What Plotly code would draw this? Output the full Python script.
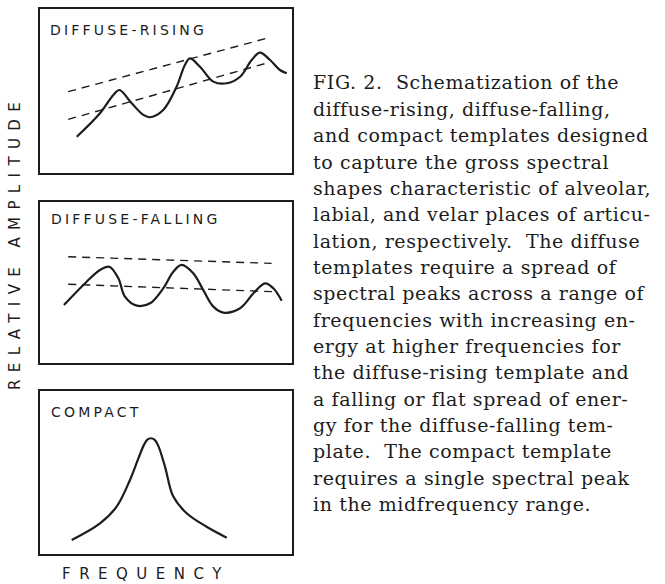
import plotly.graph_objects as go

W, H = 665, 584

# ---------------- data (relative units, 0-100 on both axes) ----------------
rising_freq = [14.6, 23.8, 29.1, 31.5, 36.4, 41.0, 43.7, 48.9, 54.2, 57.5, 59.5,
               63.5, 68.8, 74.1, 79.4, 84.0, 87.3, 91.3, 95.2, 97.9]
rising_amp = [22.1, 36.4, 47.6, 50.6, 42.5, 35.4, 34.0, 38.4, 52.6, 65.9, 69.9,
              64.8, 55.7, 54.7, 58.7, 68.9, 73.4, 68.9, 62.8, 60.8]
rising_upper_freq = [11.2, 91.3]
rising_upper_amp = [49.6, 82.7]
rising_lower_freq = [11.2, 90.6]
rising_lower_amp = [32.7, 67.3]

falling_freq = [9.5, 18.5, 23.8, 27.5, 31.1, 33.7, 38.4, 43.7, 48.9, 52.9, 56.2,
                60.8, 64.8, 68.8, 72.7, 79.4, 84.7, 89.3, 92.6, 95.9]
falling_amp = [36.0, 50.5, 57.8, 59.8, 52.6, 41.2, 35.6, 37.1, 46.4, 56.7, 60.9,
               55.7, 45.3, 35.0, 31.3, 34.0, 43.3, 49.5, 46.4, 38.7]
falling_upper_freq = [11.2, 91.9]
falling_upper_amp = [66.0, 61.9]
falling_lower_freq = [11.2, 92.6]
falling_lower_amp = [48.9, 44.3]

compact_freq = [12.6, 23.8, 30.4, 35.7, 39.0, 41.2, 42.6, 44.0, 45.4, 46.9, 49.6,
                52.9, 58.2, 66.1, 74.1]
compact_amp = [8.6, 18.8, 29.0, 45.4, 58.5, 66.8, 70.2, 71.0, 70.2, 66.5, 53.6,
               35.2, 25.0, 16.7, 10.0]

panel_labels = ["DIFFUSE-RISING", "DIFFUSE-FALLING", "COMPACT"]
x_title = "FREQUENCY"
y_title = "RELATIVE AMPLITUDE"

caption_lines = [
    "FIG. 2.  Schematization of the",
    "diffuse-rising, diffuse-falling,",
    "and compact templates designed",
    "to capture the gross spectral",
    "shapes characteristic of alveolar,",
    "labial, and velar places of articu-",
    "lation, respectively.  The diffuse",
    "templates require a spread of",
    "spectral peaks across a range of",
    "frequencies with increasing en-",
    "ergy at higher frequencies for",
    "the diffuse-rising template and",
    "a falling or flat spread of ener-",
    "gy for the diffuse-falling tem-",
    "plate.  The compact template",
    "requires a single spectral peak",
    "in the midfrequency range.",
]

# ---------------- layout helpers ----------------
INK = "#1c1c1c"


def px_x(p):
    return p / W


def px_y(p):
    return 1 - p / H


box_x = [px_x(40), px_x(292)]
panel_y = [
    [px_y(173), px_y(9)],
    [px_y(363), px_y(202)],
    [px_y(554), px_y(391)],
]

fig = go.Figure()

series = [
    (rising_freq, rising_amp, [(rising_upper_freq, rising_upper_amp),
                               (rising_lower_freq, rising_lower_amp)]),
    (falling_freq, falling_amp, [(falling_upper_freq, falling_upper_amp),
                                 (falling_lower_freq, falling_lower_amp)]),
    (compact_freq, compact_amp, []),
]

for i, (fx, fy, dashed) in enumerate(series):
    xa = "x" if i == 0 else f"x{i+1}"
    ya = "y" if i == 0 else f"y{i+1}"
    for dx, dy in dashed:
        fig.add_trace(go.Scatter(x=dx, y=dy, mode="lines", xaxis=xa, yaxis=ya,
                                 line=dict(color=INK, width=1.4, dash="8px,6px"),
                                 showlegend=False, hoverinfo="skip"))
    fig.add_trace(go.Scatter(x=fx, y=fy, mode="lines", xaxis=xa, yaxis=ya,
                             line=dict(color=INK, width=2.2, shape="spline",
                                       smoothing=1.0),
                             showlegend=False, hoverinfo="skip"))

axis_common = dict(range=[0, 100], showline=True, mirror=True, linecolor=INK,
                   linewidth=1.6, showticklabels=False, showgrid=False,
                   zeroline=False, ticks="", fixedrange=True)

layout = dict(width=W, height=H, margin=dict(l=0, r=0, t=0, b=0),
              paper_bgcolor="white", plot_bgcolor="white", showlegend=False)
for i in range(3):
    sfx = "" if i == 0 else str(i + 1)
    layout[f"xaxis{sfx}"] = dict(domain=box_x, anchor=f"y{sfx}", **axis_common)
    layout[f"yaxis{sfx}"] = dict(domain=panel_y[i], anchor=f"x{sfx}", **axis_common)
fig.update_layout(**layout)


def spaced(t, sp):
    return f'<span style="letter-spacing:{sp}px">{t}</span>'


annotations = []
label_pos = [(48, 30), (49, 219), (49, 412)]
for lab, (lx, ly) in zip(panel_labels, label_pos):
    annotations.append(dict(text=spaced(lab, 3.2), x=px_x(lx), y=px_y(ly),
                            xref="paper", yref="paper", xanchor="left",
                            yanchor="middle", showarrow=False,
                            font=dict(family="DejaVu Sans", size=14, color=INK)))

annotations.append(dict(text=spaced(x_title, 8.5), x=px_x(146), y=px_y(574),
                        xref="paper", yref="paper", xanchor="center",
                        yanchor="middle", showarrow=False,
                        font=dict(family="DejaVu Sans", size=15, color=INK)))
annotations.append(dict(text=spaced(y_title, 7.4), x=px_x(15), y=px_y(243),
                        xref="paper", yref="paper", xanchor="center",
                        yanchor="middle", showarrow=False, textangle=-90,
                        font=dict(family="DejaVu Sans", size=15, color=INK)))

base0, step = 82.5, 26.35
for k, line in enumerate(caption_lines):
    annotations.append(dict(text=spaced(line, 0.6), x=px_x(311),
                            y=px_y(base0 + k * step),
                            xref="paper", yref="paper", xanchor="left",
                            yanchor="middle", showarrow=False, align="left",
                            font=dict(family="DejaVu Serif", size=19, color=INK)))

fig.update_layout(annotations=annotations)
fig.write_html("out.html",
               config={"displayModeBar": False, "staticPlot": True},
               post_script="document.body.style.margin='0';"
                           "document.body.style.overflow='hidden';")
